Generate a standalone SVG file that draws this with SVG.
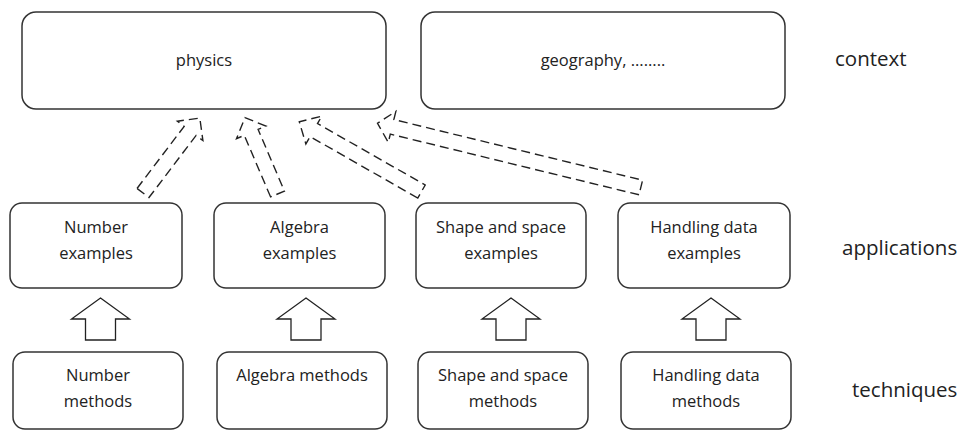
<svg xmlns="http://www.w3.org/2000/svg" width="963" height="432" viewBox="0 0 963 432">
<defs>
<style>
.box{fill:#fff;stroke:#333;stroke-width:1.5}
.t{font-family:"Open Sans","DejaVu Sans",sans-serif;font-size:16.5px;fill:#222;text-anchor:middle}
.lbl{font-family:"Open Sans","DejaVu Sans",sans-serif;font-size:20.5px;fill:#222}
.dash{fill:none;stroke:#222;stroke-width:1.4;stroke-dasharray:9 5}
.blk{fill:#fff;stroke:#222;stroke-width:1.3;stroke-linejoin:miter}
</style>
<path id="up" d="M0,0 L29,21 L15,21 L15,42 L-15,42 L-15,21 L-29,21 Z"/>
</defs>
<rect width="963" height="432" fill="#fff"/>

<g id="physics"><rect class="box" x="22" y="12" width="364" height="97" rx="14"/><text class="t" x="204" y="66">physics</text></g>
<g id="geography"><rect class="box" x="421" y="12" width="364" height="97" rx="14"/><text class="t" x="603" y="66">geography, ........</text></g>

<g id="number-examples"><rect class="box" x="10" y="203" width="172" height="85" rx="12"/><text class="t" x="96" y="233">Number</text><text class="t" x="96" y="259">examples</text></g>
<g id="algebra-examples"><rect class="box" x="214" y="203" width="171" height="85" rx="12"/><text class="t" x="299.5" y="233">Algebra</text><text class="t" x="299.5" y="259">examples</text></g>
<g id="shape-examples"><rect class="box" x="416" y="203" width="170" height="85" rx="12"/><text class="t" x="501" y="233">Shape and space</text><text class="t" x="501" y="259">examples</text></g>
<g id="handling-examples"><rect class="box" x="618" y="203" width="172" height="85" rx="12"/><text class="t" x="704" y="233">Handling data</text><text class="t" x="704" y="259">examples</text></g>

<g id="number-methods"><rect class="box" x="13" y="352" width="170" height="77" rx="12"/><text class="t" x="98" y="381">Number</text><text class="t" x="98" y="407">methods</text></g>
<g id="algebra-methods"><rect class="box" x="217" y="352" width="170" height="77" rx="12"/><text class="t" x="302" y="381">Algebra methods</text></g>
<g id="shape-methods"><rect class="box" x="418" y="352" width="170" height="77" rx="12"/><text class="t" x="503" y="381">Shape and space</text><text class="t" x="503" y="407">methods</text></g>
<g id="handling-methods"><rect class="box" x="621" y="352" width="170" height="77" rx="12"/><text class="t" x="706" y="381">Handling data</text><text class="t" x="706" y="407">methods</text></g>

<g id="labels">
<text class="lbl" x="835" y="66">context</text>
<text class="lbl" x="842" y="255">applications</text>
<text class="lbl" x="852" y="397">techniques</text>
</g>

<g id="connectors">
<use href="#up" class="blk" x="100.5" y="298"/>
<use href="#up" class="blk" x="306" y="298"/>
<use href="#up" class="blk" x="511" y="298"/>
<use href="#up" class="blk" x="711" y="298"/>
<path class="dash" transform="translate(143,193) rotate(-52.8)" d="M0,-7.5 L78,-7.5 L78,-16 L94,0 L78,16 L78,7.5 L0,7.5 Z"/>
<path class="dash" transform="translate(277.5,194) rotate(-113.1)" d="M0,-7.5 L67,-7.5 L67,-16 L83,0 L67,16 L67,7.5 L0,7.5 Z"/>
<path class="dash" transform="translate(421.5,191.5) rotate(-150.3)" d="M0,-7.5 L124,-7.5 L124,-16 L140.7,0 L124,16 L124,7.5 L0,7.5 Z"/>
<path class="dash" transform="translate(640.8,187.5) rotate(-166.3)" d="M0,-7.5 L256,-7.5 L256,-16 L271,0 L256,16 L256,7.5 L0,7.5 Z"/>
</g>
</svg>
